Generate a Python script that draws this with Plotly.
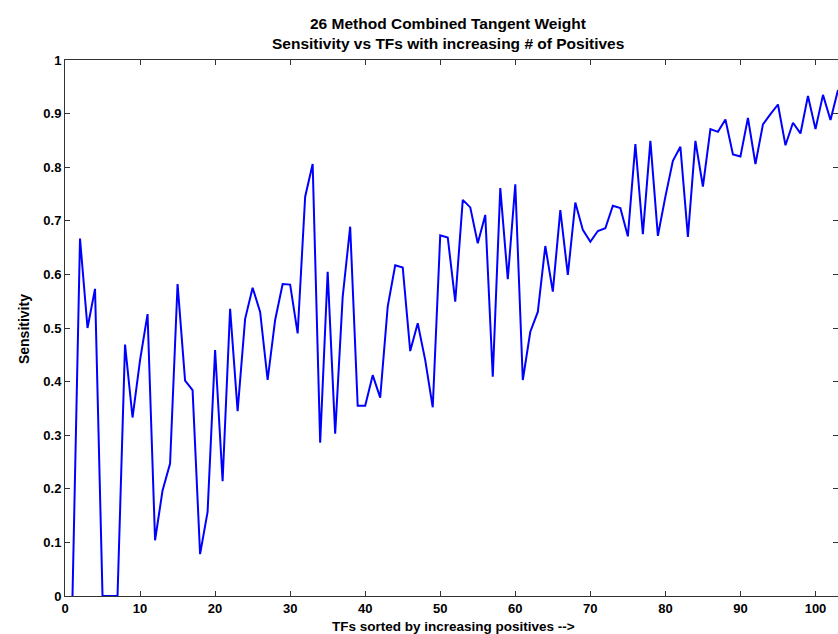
import plotly.graph_objects as go

tf_index = list(range(1, 104))
sensitivity = [
    0.000, 0.667, 0.500, 0.573, 0.000, 0.000, 0.000, 0.469, 0.333, 0.440,
    0.526, 0.104, 0.197, 0.247, 0.582, 0.402, 0.384, 0.078, 0.157, 0.459,
    0.214, 0.536, 0.345, 0.517, 0.575, 0.530, 0.403, 0.515, 0.582, 0.581,
    0.490, 0.745, 0.806, 0.286, 0.605, 0.303, 0.558, 0.689, 0.355, 0.355,
    0.412, 0.370, 0.540, 0.617, 0.613, 0.457, 0.509, 0.440, 0.352, 0.673,
    0.669, 0.549, 0.739, 0.725, 0.658, 0.711, 0.409, 0.761, 0.591, 0.768,
    0.403, 0.493, 0.530, 0.653, 0.568, 0.720, 0.599, 0.734, 0.683, 0.661,
    0.681, 0.686, 0.728, 0.724, 0.671, 0.843, 0.675, 0.849, 0.672, 0.745,
    0.812, 0.838, 0.670, 0.849, 0.764, 0.871, 0.866, 0.889, 0.824, 0.820,
    0.892, 0.806, 0.880, 0.899, 0.917, 0.841, 0.883, 0.863, 0.933, 0.871,
    0.935, 0.888, 0.944,
]

x_ticks = [0, 10, 20, 30, 40, 50, 60, 70, 80, 90, 100]
y_ticks = [0, 0.1, 0.2, 0.3, 0.4, 0.5, 0.6, 0.7, 0.8, 0.9, 1]
y_tick_labels = ["0", "0.1", "0.2", "0.3", "0.4", "0.5", "0.6", "0.7", "0.8", "0.9", "1"]

title_lines = ["26 Method Combined Tangent Weight",
               "Sensitivity vs TFs with increasing # of Positives"]
x_label = "TFs sorted by increasing positives -->"
y_label = "Sensitivity"

FONT = "Liberation Sans, Arial, sans-serif"

fig = go.Figure()
fig.add_trace(go.Scatter(
    x=tf_index, y=sensitivity, mode="lines",
    line=dict(color="#0000ff", width=2),
    showlegend=False,
))

axis_common = dict(
    showgrid=False, zeroline=False, showline=True, linecolor="#333333", linewidth=1,
    ticks="inside", ticklen=5, tickcolor="#333333", mirror="ticks",
    tickfont=dict(family=FONT, size=13, color="black", weight="bold"),
)

fig.update_layout(
    width=838, height=634,
    margin=dict(l=65, r=0, t=60, b=38),
    paper_bgcolor="white", plot_bgcolor="white",
    xaxis=dict(range=[0, 103], tickvals=x_ticks, ticktext=[str(v) for v in x_ticks], **axis_common),
    yaxis=dict(range=[0, 1], tickvals=y_ticks, ticktext=y_tick_labels, **axis_common),
    annotations=[
        dict(text="<b>" + title_lines[0] + "</b>", xref="paper", yref="paper", x=0.4955, y=1,
             xanchor="center", yanchor="middle", yshift=37, showarrow=False,
             font=dict(family=FONT, size=15.5, color="black")),
        dict(text="<b>" + title_lines[1] + "</b>", xref="paper", yref="paper", x=0.4955, y=1,
             xanchor="center", yanchor="middle", yshift=17, showarrow=False,
             font=dict(family=FONT, size=15.5, color="black")),
        dict(text="<b>" + x_label + "</b>", xref="paper", yref="paper", x=0.503, y=0,
             xanchor="center", yanchor="middle", yshift=-30, showarrow=False,
             font=dict(family=FONT, size=13.5, color="black")),
        dict(text="<b>" + y_label + "</b>", xref="paper", yref="paper", x=0, y=0.498,
             xanchor="center", yanchor="middle", xshift=-41, textangle=-90, showarrow=False,
             font=dict(family=FONT, size=14, color="black")),
    ],
)

fig.write_html("out.html")
